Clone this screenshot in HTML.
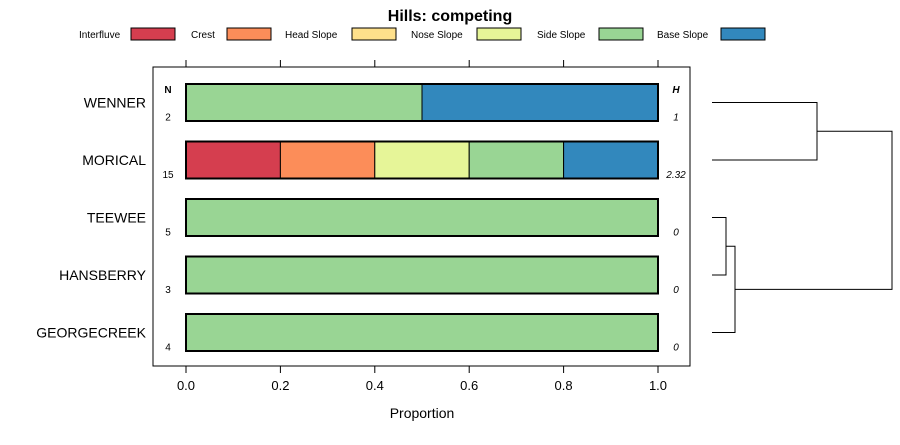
<!DOCTYPE html>
<html><head><meta charset="utf-8"><style>
body{margin:0;background:#fff;font-family:"Liberation Sans",sans-serif;}
svg text{font-family:"Liberation Sans",sans-serif;}
</style></head><body>
<svg id="c" width="900" height="440" xmlns="http://www.w3.org/2000/svg">
<text x="450" y="21" text-anchor="middle" font-size="16" font-weight="bold">Hills: competing</text>
<g id="legend"></g>
<rect x="153" y="67" width="537" height="299" fill="none" stroke="#000" stroke-width="1"/>
<g id="axes"></g><g id="bars"></g><g id="dendro"></g>
<text x="422" y="418" text-anchor="middle" font-size="14">Proportion</text>
<text x="168" y="93" text-anchor="middle" font-size="10" font-weight="bold">N</text>
<text x="676" y="93" text-anchor="middle" font-size="10" font-weight="bold" font-style="italic">H</text>
</svg>
<script>
const categories=["Interfluve","Crest","Head Slope","Nose Slope","Side Slope","Base Slope"];
const colors=["#D53E4F","#FC8D59","#FEE08B","#E6F598","#99D594","#3288BD"];
const sites=["WENNER","MORICAL","TEEWEE","HANSBERRY","GEORGECREEK"];
const counts=[2,15,5,3,4];
const entropy=["1","2.32","0","0","0"];
const props=[[0,0,0,0,0.5,0.5],[0.2,0.2,0,0.2,0.2,0.2],[0,0,0,0,1,0],[0,0,0,0,1,0],[0,0,0,0,1,0]];
const ticks=[0,0.2,0.4,0.6,0.8,1.0];
const NS="http://www.w3.org/2000/svg";
function mk(t,a,p){const e=document.createElementNS(NS,t);for(const k in a)e.setAttribute(k,a[k]);p.appendChild(e);return e;}
const x=v=>186+v*472;
const yc=i=>102.5+i*57.5;
const bh=37;
const leg=document.getElementById('legend');
const legTx=[79,191,285,411,537,657],legSw=[131,227,352,477,599,721];
categories.forEach((c,i)=>{
 const t=mk('text',{x:legTx[i],y:38,'font-size':10},leg);t.textContent=c;
 
 
 const r=mk('rect',{x:legSw[i],y:28,width:44,height:12,fill:colors[i],stroke:'#000','stroke-width':1},leg);
 
 
});
const ax=document.getElementById('axes');
ticks.forEach(v=>{
 const l1=mk('line',{x1:x(v),x2:x(v),y1:366,y2:373,stroke:'#000'},ax);
 
 
 const l2=mk('line',{x1:x(v),x2:x(v),y1:60,y2:67,stroke:'#000'},ax);
 
 
 const t=mk('text',{x:x(v),y:390,'text-anchor':'middle','font-size':13},ax);t.textContent=v.toFixed(1);
 
 
});
const bars=document.getElementById('bars');
sites.forEach((s,i)=>{
 const y=yc(i);
 const t=mk('text',{x:146,y:y+5,'text-anchor':'end','font-size':14},bars);t.textContent=s;
 
 
 let cum=0;
 props[i].forEach((p,j)=>{
  if(p<=0)return;
  const r=mk('rect',{x:x(cum),y:y-bh/2,width:x(cum+p)-x(cum),height:bh,fill:colors[j],stroke:'#000','stroke-width':1},bars);
  
  
  cum+=p;
 });
 const o=mk('rect',{x:x(0),y:y-bh/2,width:x(1)-x(0),height:bh,fill:'none',stroke:'#000','stroke-width':2},bars);
 
 
 const n=mk('text',{x:168,y:y+18,'text-anchor':'middle','font-size':10},bars);n.textContent=counts[i];
 
 
 const h=mk('text',{x:676,y:y+18,'text-anchor':'middle','font-size':10,'font-style':'italic'},bars);h.textContent=entropy[i];
 
 
});
const d=document.getElementById('dendro');
function seg(pts){const p=mk('polyline',{points:pts.map(q=>q.join(',')).join(' '),fill:'none',stroke:'#000','stroke-width':1},d);
 
 }
seg([[712,yc(0)],[817,yc(0)],[817,yc(1)],[712,yc(1)]]);
seg([[712,yc(2)],[726,yc(2)],[726,yc(3)],[712,yc(3)]]);
const m23=(yc(2)+yc(3))/2;
seg([[726,m23],[735,m23],[735,yc(4)],[712,yc(4)]]);
const m01=(yc(0)+yc(1))/2, m234=(m23+yc(4))/2;
seg([[817,m01],[892,m01],[892,m234],[735,m234]]);
</script>
</body></html>
